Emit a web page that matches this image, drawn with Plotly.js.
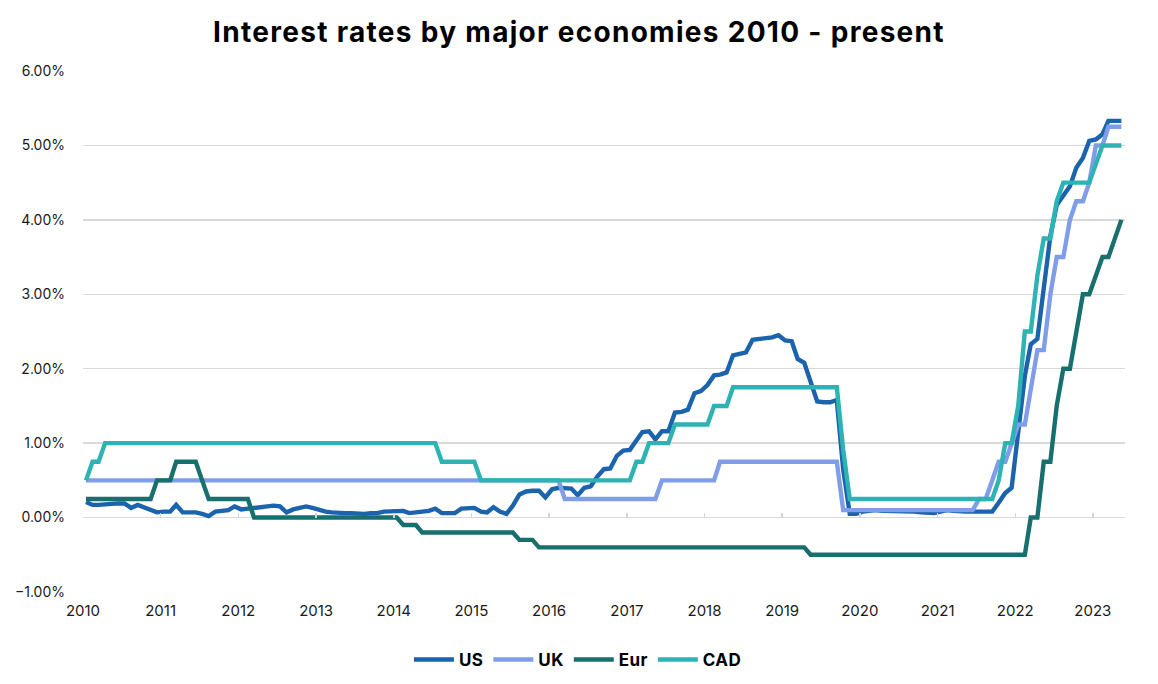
<!DOCTYPE html>
<html>
<head>
<meta charset="utf-8">
<script src="https://cdn.plot.ly/plotly-3.0.1.min.js"></script>
<style>
  html, body { margin: 0; padding: 0; background: #ffffff; }
  #chart { width: 1158px; height: 684px; }
  .gtitle { letter-spacing: 1.3px; }
  .legendtext { letter-spacing: 0.4px; }
</style>
</head>
<body>
<div id="chart"></div>
<script>
// Monthly observations, first month Jan 2010, 161 months
const startYear = 2010;
const monthCount = 161;

const seriesNames = ['US', 'UK', 'Eur', 'CAD'];

// Values in percent, one per month
const usRates = [
  0.21, 0.17, 0.17, 0.18, 0.19, 0.19, 0.19, 0.13, 0.17, 0.14,
  0.11, 0.07, 0.08, 0.08, 0.17, 0.07, 0.07, 0.07, 0.05, 0.02,
  0.08, 0.09, 0.10, 0.15, 0.11, 0.12, 0.13, 0.14, 0.15, 0.16,
  0.15, 0.07, 0.11, 0.13, 0.15, 0.13, 0.10, 0.08, 0.07, 0.06,
  0.06, 0.06, 0.05, 0.05, 0.06, 0.06, 0.08, 0.08, 0.09, 0.09,
  0.06, 0.07, 0.07, 0.09, 0.12, 0.06, 0.06, 0.06, 0.12, 0.12,
  0.13, 0.08, 0.07, 0.14, 0.08, 0.05, 0.16, 0.31, 0.35, 0.36,
  0.36, 0.27, 0.38, 0.40, 0.40, 0.39, 0.30, 0.40, 0.42, 0.55,
  0.65, 0.66, 0.83, 0.90, 0.91, 1.05, 1.15, 1.16, 1.05, 1.16,
  1.16, 1.41, 1.42, 1.45, 1.67, 1.70, 1.78, 1.91, 1.92, 1.95,
  2.18, 2.20, 2.22, 2.39, 2.40, 2.40, 2.42, 2.45, 2.38, 2.37,
  2.13, 2.08, 1.83, 1.56, 1.55, 1.55, 1.58, 0.65, 0.05, 0.05,
  0.08, 0.09, 0.10, 0.09, 0.09, 0.09, 0.09, 0.09, 0.08, 0.07,
  0.07, 0.06, 0.08, 0.10, 0.09, 0.08, 0.08, 0.08, 0.08, 0.08,
  0.08, 0.20, 0.33, 0.40, 1.20, 1.90, 2.33, 2.40, 3.08, 3.78,
  4.20, 4.33, 4.45, 4.70, 4.83, 5.06, 5.08, 5.15, 5.33, 5.33,
  5.33
];

const ukRates = [
  0.5, 0.5, 0.5, 0.5, 0.5, 0.5, 0.5, 0.5, 0.5, 0.5,
  0.5, 0.5, 0.5, 0.5, 0.5, 0.5, 0.5, 0.5, 0.5, 0.5,
  0.5, 0.5, 0.5, 0.5, 0.5, 0.5, 0.5, 0.5, 0.5, 0.5,
  0.5, 0.5, 0.5, 0.5, 0.5, 0.5, 0.5, 0.5, 0.5, 0.5,
  0.5, 0.5, 0.5, 0.5, 0.5, 0.5, 0.5, 0.5, 0.5, 0.5,
  0.5, 0.5, 0.5, 0.5, 0.5, 0.5, 0.5, 0.5, 0.5, 0.5,
  0.5, 0.5, 0.5, 0.5, 0.5, 0.5, 0.5, 0.5, 0.5, 0.5,
  0.5, 0.5, 0.5, 0.5, 0.25, 0.25, 0.25, 0.25, 0.25, 0.25,
  0.25, 0.25, 0.25, 0.25, 0.25, 0.25, 0.25, 0.25, 0.25, 0.5,
  0.5, 0.5, 0.5, 0.5, 0.5, 0.5, 0.5, 0.5, 0.75, 0.75,
  0.75, 0.75, 0.75, 0.75, 0.75, 0.75, 0.75, 0.75, 0.75, 0.75,
  0.75, 0.75, 0.75, 0.75, 0.75, 0.75, 0.75, 0.1, 0.1, 0.1,
  0.1, 0.1, 0.1, 0.1, 0.1, 0.1, 0.1, 0.1, 0.1, 0.1,
  0.1, 0.1, 0.1, 0.1, 0.1, 0.1, 0.1, 0.1, 0.25, 0.25,
  0.5, 0.75, 0.75, 1.0, 1.25, 1.25, 1.75, 2.25, 2.25, 3.0,
  3.5, 3.5, 4.0, 4.25, 4.25, 4.5, 5.0, 5.0, 5.25, 5.25,
  5.25
];

const eurRates = [
  0.25, 0.25, 0.25, 0.25, 0.25, 0.25, 0.25, 0.25, 0.25, 0.25,
  0.25, 0.5, 0.5, 0.5, 0.75, 0.75, 0.75, 0.75, 0.5, 0.25,
  0.25, 0.25, 0.25, 0.25, 0.25, 0.25, 0, 0, 0, 0,
  0, 0, 0, 0, 0, 0, 0, 0, 0, 0,
  0, 0, 0, 0, 0, 0, 0, 0, 0, -0.1,
  -0.1, -0.1, -0.2, -0.2, -0.2, -0.2, -0.2, -0.2, -0.2, -0.2,
  -0.2, -0.2, -0.2, -0.2, -0.2, -0.2, -0.2, -0.3, -0.3, -0.3,
  -0.4, -0.4, -0.4, -0.4, -0.4, -0.4, -0.4, -0.4, -0.4, -0.4,
  -0.4, -0.4, -0.4, -0.4, -0.4, -0.4, -0.4, -0.4, -0.4, -0.4,
  -0.4, -0.4, -0.4, -0.4, -0.4, -0.4, -0.4, -0.4, -0.4, -0.4,
  -0.4, -0.4, -0.4, -0.4, -0.4, -0.4, -0.4, -0.4, -0.4, -0.4,
  -0.4, -0.4, -0.5, -0.5, -0.5, -0.5, -0.5, -0.5, -0.5, -0.5,
  -0.5, -0.5, -0.5, -0.5, -0.5, -0.5, -0.5, -0.5, -0.5, -0.5,
  -0.5, -0.5, -0.5, -0.5, -0.5, -0.5, -0.5, -0.5, -0.5, -0.5,
  -0.5, -0.5, -0.5, -0.5, -0.5, -0.5, 0, 0, 0.75, 0.75,
  1.5, 2.0, 2.0, 2.5, 3.0, 3.0, 3.25, 3.5, 3.5, 3.75,
  4.0
];

const cadRates = [
  0.5, 0.75, 0.75, 1.0, 1.0, 1.0, 1.0, 1.0, 1.0, 1.0,
  1.0, 1.0, 1.0, 1.0, 1.0, 1.0, 1.0, 1.0, 1.0, 1.0,
  1.0, 1.0, 1.0, 1.0, 1.0, 1.0, 1.0, 1.0, 1.0, 1.0,
  1.0, 1.0, 1.0, 1.0, 1.0, 1.0, 1.0, 1.0, 1.0, 1.0,
  1.0, 1.0, 1.0, 1.0, 1.0, 1.0, 1.0, 1.0, 1.0, 1.0,
  1.0, 1.0, 1.0, 1.0, 1.0, 0.75, 0.75, 0.75, 0.75, 0.75,
  0.75, 0.5, 0.5, 0.5, 0.5, 0.5, 0.5, 0.5, 0.5, 0.5,
  0.5, 0.5, 0.5, 0.5, 0.5, 0.5, 0.5, 0.5, 0.5, 0.5,
  0.5, 0.5, 0.5, 0.5, 0.5, 0.75, 0.75, 1.0, 1.0, 1.0,
  1.0, 1.25, 1.25, 1.25, 1.25, 1.25, 1.25, 1.5, 1.5, 1.5,
  1.75, 1.75, 1.75, 1.75, 1.75, 1.75, 1.75, 1.75, 1.75, 1.75,
  1.75, 1.75, 1.75, 1.75, 1.75, 1.75, 1.75, 0.91, 0.25, 0.25,
  0.25, 0.25, 0.25, 0.25, 0.25, 0.25, 0.25, 0.25, 0.25, 0.25,
  0.25, 0.25, 0.25, 0.25, 0.25, 0.25, 0.25, 0.25, 0.25, 0.25,
  0.25, 0.5, 1.0, 1.0, 1.5, 2.5, 2.5, 3.25, 3.75, 3.75,
  4.25, 4.5, 4.5, 4.5, 4.5, 4.5, 4.75, 5.0, 5.0, 5.0,
  5.0
];

const seriesColors = ['#1b63ad', '#7f9de9', '#176f6e', '#2db3b3'];

// month labels (mid-month dates)
const months = [];
for (let i = 0; i < monthCount; i++) {
  const y = startYear + Math.floor(i / 12);
  const m = (i % 12) + 1;
  months.push(y + '-' + String(m).padStart(2, '0') + '-15');
}

const allValues = [usRates, ukRates, eurRates, cadRates];
const traces = seriesNames.map((name, i) => ({
  type: 'scatter',
  mode: 'lines',
  name: name,
  x: months,
  y: allValues[i],
  line: { color: seriesColors[i], width: 4.4, shape: 'linear' },
  hoverinfo: 'x+y+name'
}));
// invisible trace carrying the axis whose ticks sit on the zero line
traces.push({ type: 'scatter', mode: 'lines', x: months, y: usRates, xaxis: 'x2', yaxis: 'y',
  showlegend: false, hoverinfo: 'skip', line: { width: 0, color: 'rgba(0,0,0,0)' } });

const xRange = ['2010-01-01', '2023-06-01'];
const fontFam = 'Inter, "Noto Sans", Arial, sans-serif';

const layout = {
  width: 1158,
  height: 684,
  paper_bgcolor: '#ffffff',
  plot_bgcolor: '#ffffff',
  margin: { l: 83, r: 33, t: 71, b: 92 },
  font: { family: fontFam, color: '#1a1a1a', size: 15 },
  title: {
    text: 'Interest rates by major economies 2010 - present',
    font: { family: fontFam, size: 28, color: '#000000', weight: 700 },
    x: 0.5, xanchor: 'center', xref: 'container',
    yref: 'container', y: 1 - 32 / 684, yanchor: 'middle'
  },
  xaxis: {
    type: 'date',
    range: xRange,
    tick0: '2010-01-01',
    dtick: 'M12',
    tickformat: '%Y',
    ticks: '',
    showgrid: false,
    zeroline: false,
    showline: false,
    ticklabelstandoff: 8,
    tickfont: { family: fontFam, size: 15, color: '#1a1a1a' }
  },
  xaxis2: {
    type: 'date',
    range: xRange,
    overlaying: 'x',
    anchor: 'free',
    position: 1 / 7,
    side: 'bottom',
    tick0: '2010-01-01',
    dtick: 'M12',
    ticks: 'inside',
    ticklen: 5,
    tickwidth: 1.5,
    tickcolor: '#d4d4d4',
    showticklabels: false,
    showgrid: false,
    zeroline: false,
    showline: false
  },
  yaxis: {
    range: [-1, 6],
    dtick: 1,
    tick0: 0,
    tickformat: '.2f',
    ticksuffix: '%',
    showgrid: true,
    gridcolor: '#d9d9d9',
    gridwidth: 1.5,
    zeroline: true,
    zerolinecolor: '#d9d9d9',
    zerolinewidth: 1.5,
    showline: false,
    ticks: '',
    ticklabelstandoff: 17,
    tickfont: { family: fontFam, size: 14, color: '#1a1a1a' }
  },
  legend: {
    orientation: 'h',
    x: 0.475, xanchor: 'center',
    yref: 'container', y: 1 - 660 / 684, yanchor: 'middle',
    font: { family: fontFam, size: 17, color: '#000000', weight: 700 },
    itemwidth: 40,
    traceorder: 'normal'
  },
  showlegend: true
};

Plotly.newPlot('chart', traces, layout, { displayModeBar: false, staticPlot: true });
</script>
</body>
</html>
